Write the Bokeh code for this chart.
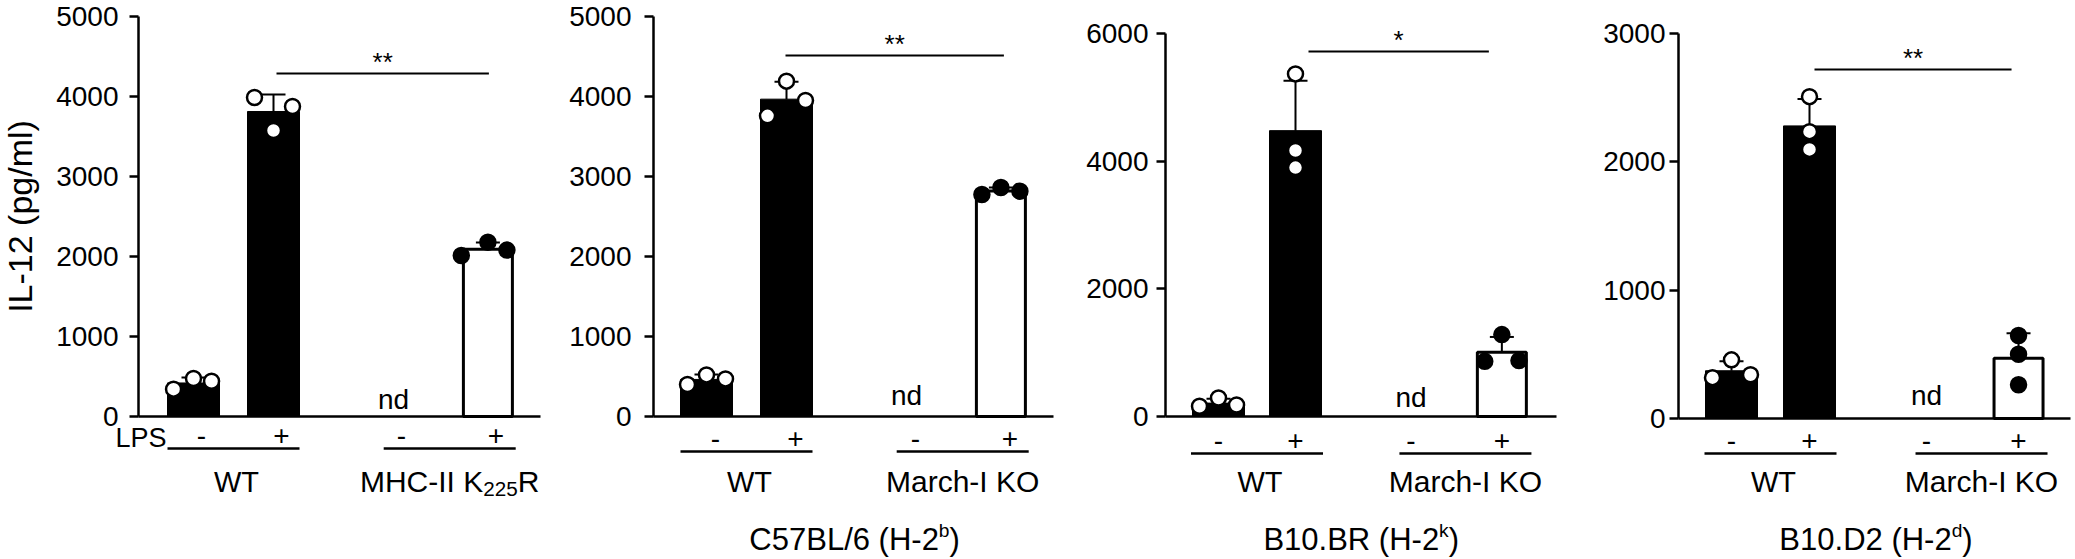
import math
import numpy as np
from bokeh.plotting import figure
from bokeh.models import Range1d, LinearAxis, FixedTicker
from bokeh.layouts import row
from bokeh.embed import file_html
from bokeh.resources import INLINE
from bokeh.core.properties import value

FONT = "Liberation Sans"

# ------------------------------------------------------------------ data
LPS_LABELS = ["-", "+", "-", "+"]
Y_LABEL = "IL-12 (pg/ml)"
GROUP_LABELS = [["WT", "MHC-II K225R"], ["WT", "March-I KO"],
                ["WT", "March-I KO"], ["WT", "March-I KO"]]
STRAIN_TITLES = ["", "C57BL/6 (H-2b)", "B10.BR (H-2k)", "B10.D2 (H-2d)"]
SIGNIF = ["**", "**", "*", "**"]
Y_MAX = [5000, 5000, 6000, 3000]
Y_STEP = [1000, 1000, 2000, 1000]

# individual replicate values (pg/ml); KO without LPS was not detected (nd)
WT_MINUS = [[342, 475, 441], [400, 520, 470], [160, 290, 180], [318, 457, 341]]
WT_PLUS = [[3988, 3575, 3875], [3758, 4192, 3950], [5367, 4167, 3900], [2508, 2235, 2097]]
KO_PLUS = [[2013, 2179, 2080], [2775, 2862, 2817], [864, 1283, 876], [647, 501, 263]]
ND_TEXT = "nd"

# rich-text pieces (text, relative size, raise in px)
RICH = {
    "MHC-II K225R": [("MHC-II K", 1.0, 0), ("225", 0.69, -7), ("R", 1.0, 0)],
    "C57BL/6 (H-2b)": [("C57BL/6 (H-2", 1.0, 0), ("b", 0.62, 9), (")", 1.0, 0)],
    "B10.BR (H-2k)": [("B10.BR (H-2", 1.0, 0), ("k", 0.62, 9), (")", 1.0, 0)],
    "B10.D2 (H-2d)": [("B10.D2 (H-2", 1.0, 0), ("d", 0.62, 9), (")", 1.0, 0)],
}

# ------------------------------------------------------------------ layout
POS = [1.0, 2.0, 3.5, 4.68]          # bar slots: WT-, WT+, KO-, KO+
BAR_W_PX = 52
PANELS = [
    dict(fig_l=0, fig_r=555, axis=138, bar1=193, unit=80, xend=540, zero=416, top=16,
         lab_dx=8, under_y=448, nd_y=405, sig_y=73, sig_dx=(3, 1), standoff=11,
         jit=[[-1.05, 0, 0.95], [-1, 0, 1], [-1.4, 0, 1]]),
    dict(fig_l=555, fig_r=1070, axis=653, bar1=706, unit=80, xend=1053, zero=416, top=16,
         lab_dx=9, under_y=451, nd_y=401, sig_y=55, sig_dx=(-1, 3), standoff=13,
         jit=[[-1, 0, 1], [-1, 0, 1], [-1, 0, 1]]),
    dict(fig_l=1070, fig_r=1565, axis=1165, bar1=1218, unit=77, xend=1556, zero=416, top=33,
         lab_dx=0, under_y=453, nd_y=403, sig_y=51, sig_dx=(13, -13), standoff=8,
         jit=[[-1, 0, 0.95], [0, 0, 0], [-0.9, 0, 0.9]]),
    dict(fig_l=1565, fig_r=2075, axis=1678, bar1=1731, unit=78, xend=2070, zero=418, top=33,
         lab_dx=0, under_y=453, nd_y=401, sig_y=69, sig_dx=(5, -7), standoff=4,
         jit=[[-1, 0, 1], [0, 0, 0], [0, 0, 0]]),
]
JIT_PX = 19
FIG_TOP, FIG_BOT = 0, 559
GROUP_Y, TITLE_Y = 487, 545
TEXT_DY = -6          # renderer places alphabetic baselines slightly low

AW = {' ': 278, '(': 333, ')': 333, '-': 333, '.': 278, '/': 278, 'B': 667, 'C': 722,
      'D': 722, 'H': 722, 'I': 278, 'K': 667, 'L': 556, 'M': 833, 'R': 722, 'W': 944,
      'T': 611, 'O': 778, 'a': 556, 'b': 556, 'c': 500, 'd': 556, 'h': 556, 'k': 500,
      'r': 333, 'n': 556}


def tw(s, size):
    return sum(AW.get(c, 556) for c in s) * size / 1000.0


def make_panel(i):
    c = PANELS[i]
    unit = c["unit"]
    ppu = (c["zero"] - c["top"]) / Y_MAX[i]

    def X(px):
        return POS[0] + (px - c["bar1"]) / unit

    def Y(px):
        return (c["zero"] - px) / ppu

    def bpx(k):
        return c["bar1"] + (POS[k] - POS[0]) * unit

    p = figure(width=c["fig_r"] - c["fig_l"], height=FIG_BOT - FIG_TOP,
               x_range=Range1d(X(c["fig_l"]), X(c["fig_r"])),
               y_range=Range1d(Y(FIG_BOT), Y(FIG_TOP)),
               output_backend="svg", toolbar_location=None,
               x_axis_location=None, y_axis_location=None,
               min_border_left=0, min_border_right=0,
               min_border_top=0, min_border_bottom=0,
               outline_line_color=None, background_fill_color="white",
               border_fill_color="white")
    p.grid.visible = False

    yax = LinearAxis(bounds=(0, Y_MAX[i]),
                     ticker=FixedTicker(ticks=list(range(0, Y_MAX[i] + 1, Y_STEP[i]))))
    yax.fixed_location = X(c["axis"])
    yax.axis_line_width = 2.5
    yax.major_tick_line_width = 2.5
    yax.major_tick_out = 9
    yax.major_tick_in = 0
    yax.minor_tick_line_color = None
    yax.major_label_standoff = c["standoff"]
    yax.major_label_text_font = FONT
    yax.major_label_text_font_size = "28px"
    yax.major_label_text_color = "black"
    p.add_layout(yax, "left")

    # x axis line
    p.segment(x0=[X(c["axis"])], y0=[0], x1=[X(c["xend"])], y1=[0],
              line_color="black", line_width=2.5)

    groups = [(0, WT_MINUS[i], "black", "white"),
              (1, WT_PLUS[i], "black", "white"),
              (3, KO_PLUS[i], "white", "black")]
    bw = BAR_W_PX / unit
    cap = 12.0 / unit
    for gi, (k, vals, bar_fill, pt_fill) in enumerate(groups):
        arr = np.array(vals, dtype=float)
        mean = arr.mean()
        sd = arr.std(ddof=1)
        if bar_fill == "black":
            p.vbar(x=[POS[k]], top=[mean], bottom=0, width=bw, fill_color="black",
                   line_color="black", line_width=1)
        else:
            p.vbar(x=[POS[k]], top=[mean], bottom=0, width=bw - 3.0 / unit,
                   fill_color="white", line_color="black", line_width=3)
        p.segment(x0=[POS[k]], y0=[mean], x1=[POS[k]], y1=[mean + sd],
                  line_color="black", line_width=2)
        p.segment(x0=[POS[k] - cap], y0=[mean + sd], x1=[POS[k] + cap], y1=[mean + sd],
                  line_color="black", line_width=2)
        xs = [POS[k] + j * JIT_PX / unit for j in c["jit"][gi]]
        p.scatter(x=xs, y=list(arr), marker="circle", size=15, fill_color=pt_fill,
                  line_color="black", line_width=2.5)

    def txt(xpx, ypx, s, size, align="center", baseline="alphabetic", angle=0.0):
        if baseline == "alphabetic":
            ypx = ypx + TEXT_DY
        p.text(x=[X(xpx)], y=[Y(ypx)], text=[s], text_font=value(FONT),
               text_font_size=value(f"{size:.1f}px"), text_align=align,
               text_baseline=baseline, text_color="black", angle=angle)

    # nd
    txt(bpx(2), c["nd_y"], ND_TEXT, 28)

    # LPS -/+ row
    for k in range(4):
        txt(bpx(k) + c["lab_dx"], c["under_y"] - 7, LPS_LABELS[k], 28)

    # group underlines
    wt_c = (bpx(0) + bpx(1)) / 2
    ko_c = (bpx(2) + bpx(3)) / 2 + 9
    half = 66
    p.segment(x0=[X(wt_c - half), X(ko_c - half)], y0=[Y(c["under_y"])] * 2,
              x1=[X(wt_c + half), X(ko_c + half)], y1=[Y(c["under_y"])] * 2,
              line_color="black", line_width=2.5)

    def rich(xc, base, label, size):
        parts = RICH.get(label, [(label, 1.0, 0)])
        total = sum(tw(t, size * sc) for t, sc, dy in parts)
        cur = xc - total / 2
        for t, sc, dy in parts:
            txt(cur, base - dy, t, size * sc, align="left")
            cur += tw(t, size * sc)

    rich(wt_c + 3, GROUP_Y, GROUP_LABELS[i][0], 29)
    rich(ko_c, GROUP_Y, GROUP_LABELS[i][1], 30)
    if STRAIN_TITLES[i]:
        rich((wt_c + ko_c) / 2, TITLE_Y, STRAIN_TITLES[i], 31)

    # significance bar
    sx0 = bpx(1) + c["sig_dx"][0]
    sx1 = bpx(3) + c["sig_dx"][1]
    p.segment(x0=[X(sx0)], y0=[Y(c["sig_y"])], x1=[X(sx1)], y1=[Y(c["sig_y"])],
              line_color="black", line_width=2)
    txt((sx0 + sx1) / 2, c["sig_y"] - 6, SIGNIF[i], 26)

    if i == 0:
        txt(166, c["under_y"] - 5, "LPS", 27, align="right")
        txt(19, 216, Y_LABEL, 34, baseline="middle", angle=math.pi / 2)
    return p


plots = [make_panel(i) for i in range(4)]
layout = row(*plots, spacing=0)
open("out.html", "w").write(file_html(layout, INLINE))
